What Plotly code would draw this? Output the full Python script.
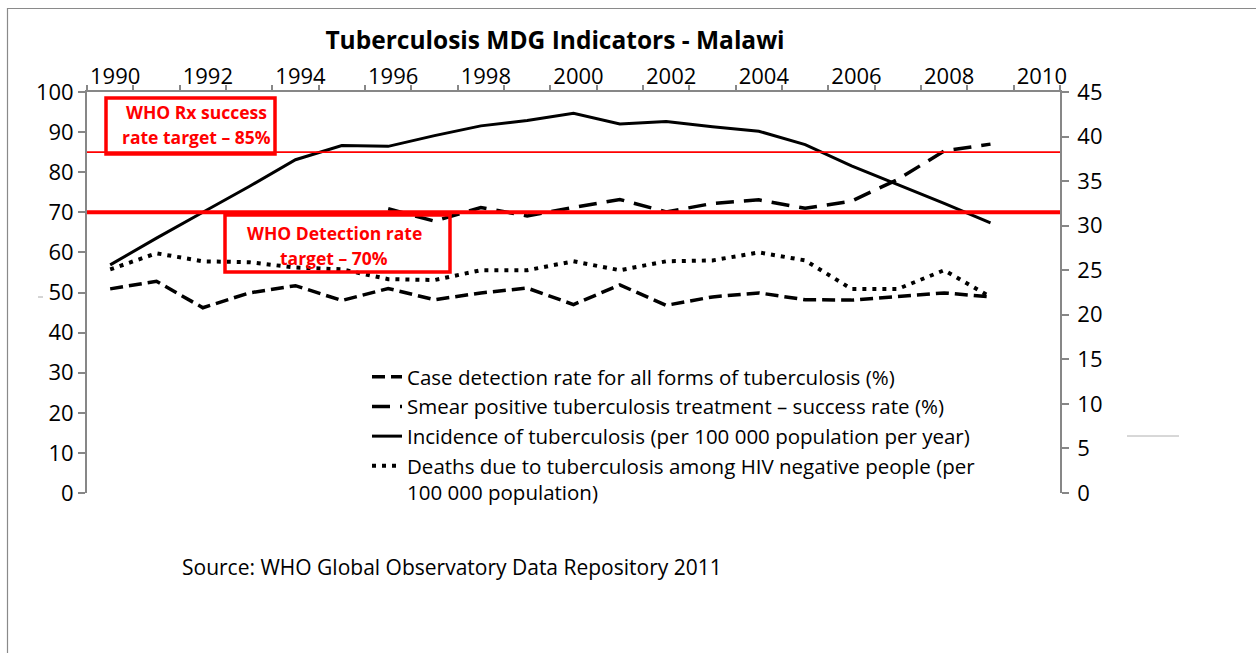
import plotly.graph_objects as go

years = list(range(1990, 2010))

case_detection = [50.9, 52.8, 46.2, 49.9, 51.7, 48.0, 51.0, 48.2, 49.9, 51.1,
                  47.0, 51.9, 46.8, 48.9, 49.9, 48.2, 48.1, 48.9, 49.9, 48.9]
treatment_success = [None, None, None, None, None, None, 70.9, 67.8, 71.2, 69.1,
                     71.2, 73.2, 70.1, 72.2, 73.1, 71.0, 72.8, 78.2, 85.3, 87.0]
incidence = [25.6, 28.6, 31.5, 34.4, 37.4, 39.0, 38.9, 40.1, 41.2, 41.8,
             42.6, 41.4, 41.7, 41.1, 40.6, 39.1, 36.7, 34.6, 32.5, 30.3]
deaths = [25.1, 26.9, 26.0, 25.9, 25.3, 25.1, 24.0, 23.9, 25.0, 25.0,
          26.0, 25.0, 26.0, 26.1, 27.0, 26.1, 22.9, 22.9, 25.0, 22.0]

names = [
    "Case detection rate for all forms of tuberculosis (%)",
    "Smear positive tuberculosis treatment – success rate (%)",
    "Incidence of tuberculosis (per 100 000 population per year)",
    "Deaths due to tuberculosis among HIV negative people (per<br>100 000 population)",
]
x_labels = list(range(1990, 2011, 2))
left_ticks = list(range(0, 101, 10))
right_ticks = list(range(0, 46, 5))
targets = [85, 70]

FONT = "Open Sans"
GRAY = "#878787"

fig = go.Figure()
fig.add_trace(go.Scatter(x=years, y=case_detection, name=names[0], mode="lines",
                         line=dict(color="black", width=3.5, dash="13px,6px"),
                         yaxis="y"))
fig.add_trace(go.Scatter(x=years, y=treatment_success, name=names[1], mode="lines",
                         line=dict(color="black", width=3.5, dash="18px,10px"),
                         yaxis="y"))
fig.add_trace(go.Scatter(x=years, y=incidence, name=names[2], mode="lines",
                         line=dict(color="black", width=3),
                         yaxis="y2"))
fig.add_trace(go.Scatter(x=years, y=deaths, name=names[3], mode="lines",
                         line=dict(color="black", width=4, dash="4px,6px"),
                         yaxis="y2"))

W, H = 1256, 653
L, R, T, B = 87, 196, 92, 160
pw, ph = W - L - R, H - T - B


def px(x):
    return (x - L) / pw


def py(y):
    return (H - B - y) / ph


shapes = []
shapes.append(dict(type="line", xref="paper", yref="y", x0=0, x1=1, y0=targets[0], y1=targets[0],
                   line=dict(color="#FF0000", width=1.8)))
shapes.append(dict(type="line", xref="paper", yref="y", x0=0, x1=1, y0=targets[1], y1=targets[1],
                   line=dict(color="#FF0000", width=4)))
shapes.append(dict(type="rect", xref="paper", yref="paper", x0=px(106), x1=px(275), y0=py(154), y1=py(98),
                   line=dict(color="#FF0000", width=3.5)))
shapes.append(dict(type="rect", xref="paper", yref="paper", x0=px(225), x1=px(450), y0=py(272), y1=py(215),
                   line=dict(color="#FF0000", width=3.5)))
shapes.append(dict(type="rect", xref="paper", yref="paper", x0=px(7.5), x1=px(1300), y0=py(700), y1=py(8.5),
                   line=dict(color="#8a8a8a", width=1.2)))
shapes.append(dict(type="line", xref="paper", yref="paper", x0=px(38), x1=px(43), y0=py(297), y1=py(297),
                   line=dict(color="#aaaaaa", width=1)))
shapes.append(dict(type="line", xref="paper", yref="paper", x0=px(1127), x1=px(1179), y0=py(436), y1=py(436),
                   line=dict(color="#b0b0b0", width=1)))

annotations = []
box_font = dict(family=FONT, size=17.5, color="#FF0000")
for text, x, y in [("<b>WHO Rx success</b>", 196, 112), ("<b>rate target – 85%</b>", 196, 137),
                   ("<b>WHO Detection rate</b>", 334, 233), ("<b>target – 70%</b>", 334, 258)]:
    annotations.append(dict(text=text, xref="paper", yref="paper", x=px(x), y=py(y),
                            xanchor="center", yanchor="middle", showarrow=False, font=box_font))
annotations.append(dict(text="Source: WHO Global Observatory Data Repository 2011", xref="paper", yref="paper",
                        x=px(180), y=py(567), xanchor="left", yanchor="middle", showarrow=False,
                        font=dict(family=FONT, size=21, color="black")))

tickfont = dict(family=FONT, size=22, color="black")
fig.update_layout(
    width=W, height=H,
    margin=dict(l=L, r=R, t=T, b=B, pad=0),
    paper_bgcolor="white", plot_bgcolor="white",
    title=dict(text="<b>Tuberculosis MDG Indicators - Malawi</b>", x=555 / W, xanchor="center",
               y=1 - 40 / H, yanchor="middle", font=dict(family=FONT, size=24.5, color="black")),
    font=dict(family=FONT, color="black"),
    xaxis=dict(side="top", range=[1989.5, 2010.5], tickvals=x_labels, ticktext=[str(v) for v in x_labels],
               ticks="outside", ticklen=0, tickcolor="rgba(0,0,0,0)", ticklabelshift=5, ticklabelstandoff=-3,
               minor=dict(tick0=1989.5, dtick=1, ticks="outside", ticklen=5, tickcolor=GRAY, tickwidth=1.5,
                          showgrid=False),
               showline=True, linecolor=GRAY, linewidth=1.8, showgrid=False, zeroline=False,
               tickfont=tickfont),
    yaxis=dict(range=[0, 100], tickvals=left_ticks, ticks="outside", ticklen=7, tickcolor=GRAY, tickwidth=1.5,
               showline=True, linecolor=GRAY, linewidth=1.8, showgrid=False, zeroline=False,
               tickfont=tickfont),
    yaxis2=dict(range=[0, 45], tickvals=right_ticks, overlaying="y", side="right", ticks="outside", ticklen=7,
                tickcolor=GRAY, tickwidth=1.5, showline=True, linecolor=GRAY, linewidth=1.8, showgrid=False,
                zeroline=False, tickfont=tickfont, ticklabelstandoff=4),
    legend=dict(x=px(367), y=py(357), xanchor="left", yanchor="top", bgcolor="rgba(0,0,0,0)",
                font=dict(family=FONT, size=20.5, color="black"), itemwidth=30, valign="top"),
    shapes=shapes, annotations=annotations,
)

fig.write_html("out.html", post_script="document.body.style.margin='0px';",
               config={"displayModeBar": False})
